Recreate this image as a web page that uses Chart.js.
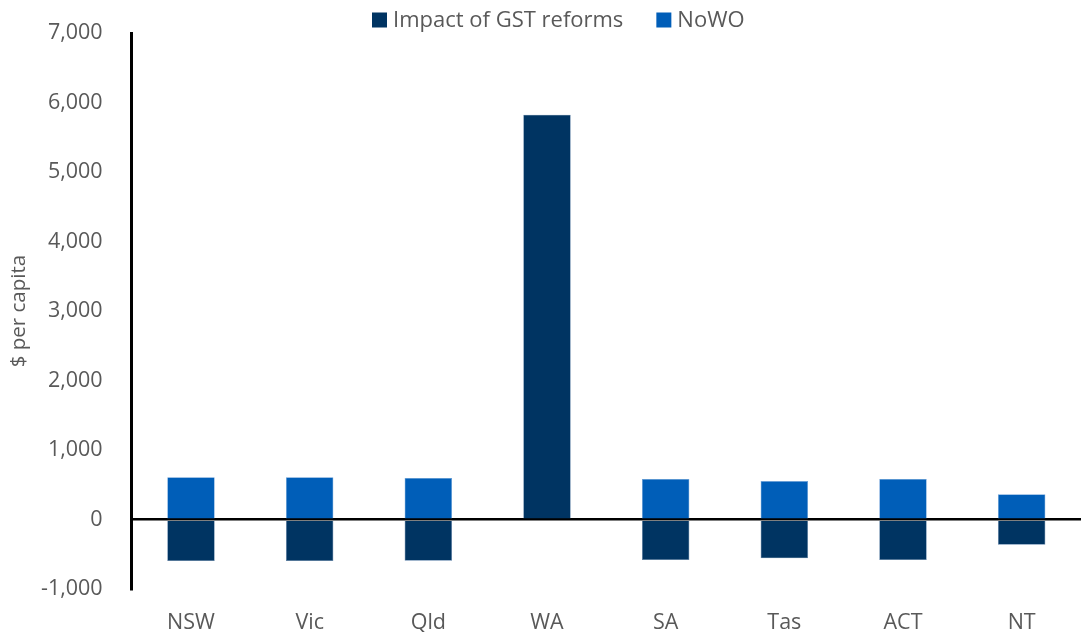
<!DOCTYPE html>
<html>
<head>
<meta charset="utf-8">
<script src="https://cdn.jsdelivr.net/npm/chart.js@4"></script>
<style>
  html, body { margin: 0; padding: 0; background: #fff; }
  #wrap { width: 1081px; height: 632px; }
</style>
</head>
<body>
<div id="wrap"><canvas id="gstChart"></canvas></div>
<script>
// States / territories
const states = ['NSW', 'Vic', 'Qld', 'WA', 'SA', 'Tas', 'ACT', 'NT'];
// $ per capita
const gstImpact = [-595, -595, -590, 5825, -580, -555, -580, -360];
const nowo = [610, 610, 600, 0, 585, 555, 585, 365];

const darkBlue = '#003462';
const midBlue = '#005eb8';
const grey = '#595959';
const fontFamily = "'Open Sans', sans-serif";
const textFont = { family: fontFamily, size: 21.5 };

// legend across the top + rotated axis title, drawn by hand so the layout stays put
const sideText = {
    id: 'sideText',
    afterDraw(chart) {
        const c = chart.ctx;
        const area = chart.chartArea;
        c.save();
        c.fillStyle = grey;
        c.font = `22px ${fontFamily}`;
        c.textBaseline = 'middle';
        let x = 372;
        const y = 20;
        chart.data.datasets.forEach(ds => {
            c.fillStyle = ds.backgroundColor;
            c.fillRect(x, y - 7.5, 15, 15);
            c.fillStyle = grey;
            c.fillText(ds.label, x + 21, y + 1);
            x += 21 + c.measureText(ds.label).width + 33;
        });
        // y axis title
        c.font = `20.5px ${fontFamily}`;
        c.textAlign = 'center';
        c.translate(19, (area.top + area.bottom) / 2);
        c.rotate(-Math.PI / 2);
        c.fillText('$ per capita', 0, 0);
        c.restore();
    }
};

const ctx = document.getElementById('gstChart').getContext('2d');

new Chart(ctx, {
    type: 'bar',
    data: {
        labels: states,
        datasets: [{
            label: 'Impact of GST reforms',
            data: gstImpact,
            backgroundColor: darkBlue,
            borderColor: '#5a7fa6',
            borderWidth: 0.6,
            barPercentage: 0.8,
            categoryPercentage: 0.5
        }, {
            label: 'NoWO',
            data: nowo,
            backgroundColor: midBlue,
            borderColor: '#6a9fd8',
            borderWidth: 0.6,
            barPercentage: 0.8,
            categoryPercentage: 0.5
        }]
    },
    options: {
        responsive: true,
        maintainAspectRatio: false,
        animation: false,
        layout: { padding: { left: 12, right: -9, top: 33, bottom: -25 } },
        plugins: {
            legend: { display: false },
            tooltip: { enabled: false }
        },
        scales: {
            x: {
                stacked: true,
                grid: { display: false, drawTicks: false },
                border: { display: false },
                ticks: { color: grey, font: textFont, padding: 21 },
                afterFit: scale => { scale.paddingRight = -9; }
            },
            y: {
                stacked: true,
                min: -1000,
                max: 7000,
                ticks: {
                    stepSize: 1000,
                    color: grey,
                    font: textFont,
                    padding: 29,
                    callback: v => v.toLocaleString('en-US')
                },
                grid: {
                    drawTicks: false,
                    color: c => c.tick && c.tick.value === 0 ? '#000' : 'rgba(0,0,0,0)',
                    lineWidth: 2.5
                },
                border: { display: true, color: '#000', width: 3 },
                afterFit: scale => {
                    // the tick padding would otherwise push the plot down from the top
                    scale.paddingTop = 0;
                    scale.paddingBottom = 0;
                    scale.paddingRight = -9;
                }
            }
        }
    },
    plugins: [sideText]
});
</script>
</body>
</html>
